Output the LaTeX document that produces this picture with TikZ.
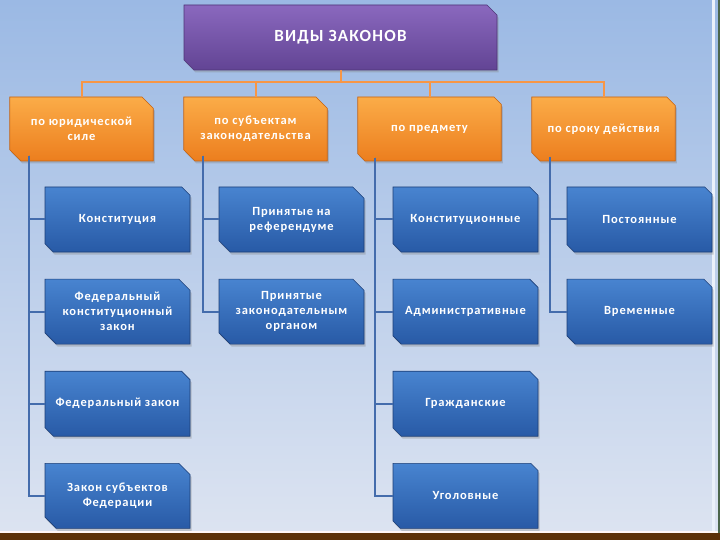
\documentclass[tikz,border=0pt]{standalone}
\usepackage{fontspec}
\setmainfont{Carlito}
\newfontfamily\boxfont{Carlito}[LetterSpace=7]
\usepackage{xcolor}
\usetikzlibrary{positioning,shapes.misc,shadows}

\definecolor{bgtop}{RGB}{155,185,228}
\definecolor{bgbot}{RGB}{221,228,241}
\definecolor{violettop}{RGB}{138,104,190}
\definecolor{violetbot}{RGB}{98,68,148}
\definecolor{violetline}{RGB}{78,52,118}
\definecolor{orangetop}{RGB}{251,172,72}
\definecolor{orangebot}{RGB}{236,126,30}
\definecolor{orangeline}{RGB}{196,98,18}
\definecolor{orangebus}{RGB}{247,150,70}
\definecolor{bluetop}{RGB}{72,132,208}
\definecolor{bluebot}{RGB}{40,90,166}
\definecolor{blueline}{RGB}{28,62,118}
\definecolor{bluebus}{RGB}{68,108,172}
\definecolor{footbar}{RGB}{92,48,8}

\begin{document}
\begin{tikzpicture}[
    x                  = 1pt,
    y                  = -1pt,
    node distance      = 26.5pt,
    every node/.style  = {text=white, align=center, inner sep=0pt},
    cutbox/.style      = {chamfered rectangle,
                          chamfered rectangle corners={north east,south west},
                          chamfered rectangle xsep=8pt,
                          line width=.6pt,
                          drop shadow={shadow xshift=1.5pt, shadow yshift=-2.5pt, opacity=.35}},
    rootbox/.style     = {cutbox, minimum width=313pt, minimum height=65pt,
                          top color=violettop, bottom color=violetbot, draw=violetline,
                          font=\boxfont\bfseries\fontsize{17}{20}\selectfont},
    groupbox/.style    = {cutbox, minimum width=143.5pt, minimum height=64pt,
                          top color=orangetop, bottom color=orangebot, draw=orangeline,
                          font=\boxfont\bfseries\fontsize{12.5}{15}\selectfont},
    lawbox/.style      = {cutbox, minimum width=145pt, minimum height=65pt,
                          top color=bluetop, bottom color=bluebot, draw=blueline,
                          font=\boxfont\bfseries\fontsize{12.5}{15}\selectfont},
    orangewire/.style  = {draw=orangebus, line width=2pt},
    bluewire/.style    = {draw=bluebus, line width=2pt}
  ]
% background of the slide
\fill[top color=bgtop, bottom color=bgbot] (0,0) rectangle (720,540);
\useasboundingbox (0,0) rectangle (720,540);
\fill[white!85!pink] (0,530.5) rectangle (720,533);
\fill[footbar] (0,533) rectangle (720,540);
\fill[white!80!bgtop] (712,0) rectangle (714.5,530.5);
\fill[black!75!green!40!gray] (718,0) rectangle (720,533);

% root and groups
\node[rootbox] (root) at (340.5,37.5) {ВИДЫ ЗАКОНОВ};
\coordinate (bus) at (0,82);
\node[groupbox] (g1) at (81.5,129) {по юридической\\силе};
\node[groupbox] (g2) at (255.5,129) {по субъектам\\законодательства};
\node[groupbox] (g3) at (429.5,129) {по предмету};
\node[groupbox] (g4) at (603.5,129) {по сроку действия};

\foreach \g in {g1,g2,g3,g4}
  \draw[orangewire] (root.south) -- (root.south |- bus) -| (\g.north);

% laws
\node[lawbox] (a1) at (117.5,219.5) {Конституция};
\node[lawbox, below=of a1] (a2) {Федеральный\\конституционный\\закон};
\node[lawbox, below=of a2] (a3) {Федеральный закон};
\node[lawbox, below=of a3] (a4) {Закон субъектов\\Федерации};

\node[lawbox] (b1) at (291.5,219.5) {Принятые на\\референдуме};
\node[lawbox, below=of b1] (b2) {Принятые\\законодательным\\органом};

\node[lawbox] (c1) at (465.5,219.5) {Конституционные};
\node[lawbox, below=of c1] (c2) {Административные};
\node[lawbox, below=of c2] (c3) {Гражданские};
\node[lawbox, below=of c3] (c4) {Уголовные};

\node[lawbox] (d1) at (639.5,219.5) {Постоянные};
\node[lawbox, below=of d1] (d2) {Временные};

\foreach \k in {a1,a2,a3,a4}
  \draw[bluewire] ([xshift=14pt]g1.south west) |- (\k.west);
\foreach \k in {b1,b2}
  \draw[bluewire] ([xshift=14pt]g2.south west) |- (\k.west);
\foreach \k in {c1,c2,c3,c4}
  \draw[bluewire] ([xshift=14pt]g3.south west) |- (\k.west);
\foreach \k in {d1,d2}
  \draw[bluewire] ([xshift=14pt]g4.south west) |- (\k.west);

\end{tikzpicture}
\end{document}
